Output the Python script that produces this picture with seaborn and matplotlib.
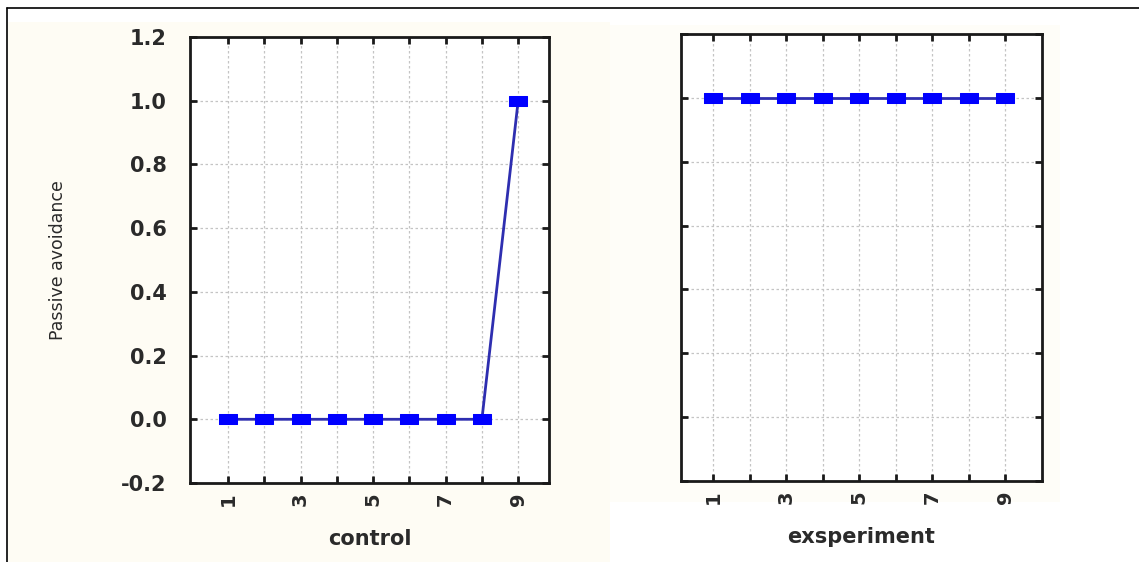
import numpy as np
import pandas as pd
import matplotlib
matplotlib.use("Agg")
import matplotlib.pyplot as plt
import seaborn as sns
from matplotlib.patches import Rectangle
from matplotlib.lines import Line2D

# data
trials = [1, 2, 3, 4, 5, 6, 7, 8, 9]
control = [0.0, 0.0, 0.0, 0.0, 0.0, 0.0, 0.0, 0.0, 1.0]
experiment = [1.0, 1.0, 1.0, 1.0, 1.0, 1.0, 1.0, 1.0, 1.0]
group_names = ["control", "exsperiment"]
y_ticks = [-0.2, 0.0, 0.2, 0.4, 0.6, 0.8, 1.0, 1.2]
y_ticklabels = ["-0.2", "0.0", "0.2", "0.4", "0.6", "0.8", "1.0", "1.2"]
x_ticklabels = ["1", "", "3", "", "5", "", "7", "", "9"]

sns.set_style("white")
plt.rcParams["font.family"] = ["DejaVu Sans"]
txt = "#2a2a2a"

fig = plt.figure(figsize=(11.39, 5.62), dpi=100)
fig.patch.set_facecolor("white")

# very faint cream behind the panels, as in the scanned original
fig.patches.append(Rectangle((8 / 1139, 0), (610 - 8) / 1139, 1 - 22 / 562,
                             transform=fig.transFigure, facecolor="#fefcf4",
                             edgecolor="none", zorder=-10))
fig.patches.append(Rectangle((610 / 1139, 60 / 562), 450 / 1139, 1 - 85 / 562,
                             transform=fig.transFigure, facecolor="#fefdf8",
                             edgecolor="none", zorder=-10))
# outer frame (top and left edge)
fig.add_artist(Line2D([7 / 1139, 1], [1 - 8 / 562, 1 - 8 / 562],
                      transform=fig.transFigure, color="black", lw=1.2))
fig.add_artist(Line2D([7 / 1139, 7 / 1139], [0, 1 - 8 / 562],
                      transform=fig.transFigure, color="black", lw=1.2))

ax1 = fig.add_axes([190 / 1139, 79 / 562, 359 / 1139, 446 / 562])
ax2 = fig.add_axes([681 / 1139, 81 / 562, 361 / 1139, 447 / 562])

box = [(-1, -0.5), (1, -0.5), (1, 0.5), (-1, 0.5), (-1, -0.5)]

for ax, vals, name, xl in [(ax1, control, group_names[0], (-0.05, 9.85)),
                           (ax2, experiment, group_names[1], (0.12, 10.0))]:
    df = pd.DataFrame({"trial": trials, "value": vals})
    sns.lineplot(data=df, x="trial", y="value", ax=ax, color="#2e2eb0",
                 linewidth=2, marker=box, markersize=13,
                 markerfacecolor="#0000ff", markeredgecolor="#0000ff")
    ax.set_xlim(*xl)
    ax.set_ylim(-0.2, 1.2)
    ax.set_yticks(y_ticks)
    ax.set_xticks(trials)
    ax.set_xticklabels(x_ticklabels, rotation=90, fontsize=14,
                       fontweight="bold", color=txt)
    ax.grid(True, linestyle=(0, (2, 2)), color="#c4c4c4", linewidth=0.9)
    ax.set_facecolor("white")
    for s in ax.spines.values():
        s.set_visible(True)
        s.set_color("#1a1a1a")
        s.set_linewidth(2)
    ax.tick_params(direction="in", length=5, width=2, top=True, right=True,
                   bottom=True, left=True, color="#1a1a1a", pad=7)
    ax.set_xlabel(name, fontsize=15, fontweight="bold", color=txt,
                  labelpad=16)
    ax.set_ylabel("")

ax1.set_yticklabels(y_ticklabels, fontsize=15, fontweight="bold", color=txt)
ax1.tick_params(axis="y", pad=17)
ax2.set_yticklabels([])
ax1.set_ylabel("Passive avoidance", fontsize=12.5, color=txt, labelpad=39)

fig.savefig("out.png", dpi=100)
